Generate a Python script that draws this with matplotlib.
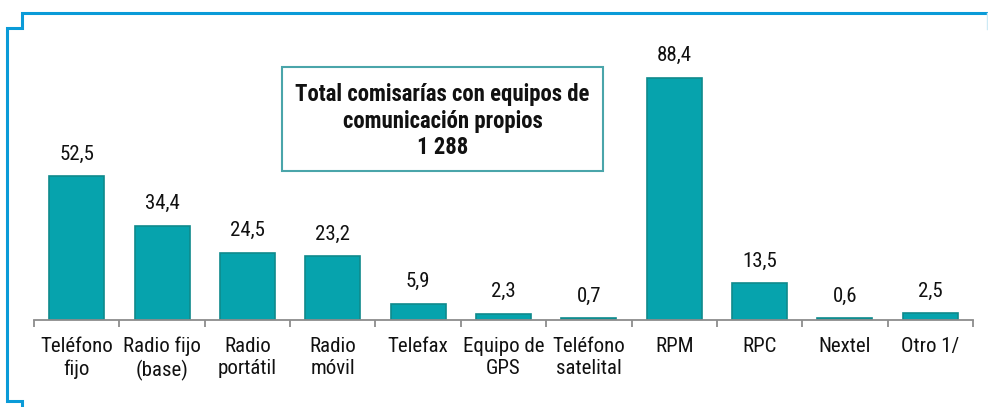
import matplotlib
matplotlib.use("Agg")
import matplotlib.pyplot as plt
from matplotlib.lines import Line2D
from matplotlib.patches import Rectangle

categories = ["Teléfono\nfijo", "Radio fijo\n(base)", "Radio\nportátil", "Radio\nmóvil",
              "Telefax", "Equipo de\nGPS", "Teléfono\nsatelital", "RPM", "RPC", "Nextel", "Otro 1/"]
values = [52.5, 34.4, 24.5, 23.2, 5.9, 2.3, 0.7, 88.4, 13.5, 0.6, 2.5]
value_labels = ["52,5", "34,4", "24,5", "23,2", "5,9", "2,3", "0,7", "88,4", "13,5", "0,6", "2,5"]
box_text = "Total comisarías con equipos de\ncomunicación propios\n1 288"

plt.rcParams["font.family"] = ["Roboto Condensed", "DejaVu Sans"]

W, H = 988, 407
fig = plt.figure(figsize=(W / 100, H / 100), dpi=100)

ax_left, ax_right = 34, 973
ax_top, ax_bot = 40.5, 320
ax = fig.add_axes([ax_left / W, 1 - ax_bot / H, (ax_right - ax_left) / W, (ax_bot - ax_top) / H])

x = list(range(len(values)))
ax.bar(x, values, width=0.645, color="#06A3AD", edgecolor="#0F8A8C", linewidth=1.2, zorder=2)
ax.set_xlim(-0.5, len(values) - 0.5)
ax.set_ylim(0, 102)
for xi, v, lab in zip(x, values, value_labels):
    ax.annotate(lab, (xi, v), xytext=(0, 9), textcoords="offset points",
                ha="center", va="bottom", fontsize=15, color="#111111")

for s in ["top", "right", "left"]:
    ax.spines[s].set_visible(False)
ax.spines["bottom"].set_color("#8C8C8C")
ax.spines["bottom"].set_linewidth(1.3)
ax.set_yticks([])
ax.set_xticks([i - 0.5 for i in range(len(values) + 1)])
ax.set_xticklabels([])
ax.tick_params(axis="x", length=5, width=1.3, color="#8C8C8C", direction="out")
ax.set_xticks(x, minor=True)
ax.set_xticklabels(categories, minor=True, fontsize=15, color="#111111", linespacing=1.23)
ax.tick_params(axis="x", which="minor", length=0, pad=12)

# info box
bx0, by0, bx1, by1 = 282, 67, 603, 171
fig.patches.append(Rectangle((bx0 / W, 1 - by1 / H), (bx1 - bx0) / W, (by1 - by0) / H,
                             transform=fig.transFigure, facecolor="white",
                             edgecolor="#4AA5AA", linewidth=1.5))
fig.text((bx0 + bx1) / 2 / W, 1 - 121 / H, box_text, ha="center", va="center",
         fontsize=16.4, fontweight="bold", color="#111111", linespacing=1.22)

# blue frame
blue = "#0A9BD8"
pts = [(988, 13), (22, 13), (22, 28), (7, 28), (7, 401), (22, 401), (22, 407)]
fig.lines.append(Line2D([p[0] / W for p in pts], [1 - p[1] / H for p in pts],
                        transform=fig.transFigure, color=blue, linewidth=2.2,
                        solid_joinstyle="miter"))
fig.lines.append(Line2D([987 / W, 987 / W], [1 - 13 / H, 1 - 29 / H], transform=fig.transFigure,
                        color="#CDEAF5", linewidth=1))

fig.savefig("out.png", dpi=100)
